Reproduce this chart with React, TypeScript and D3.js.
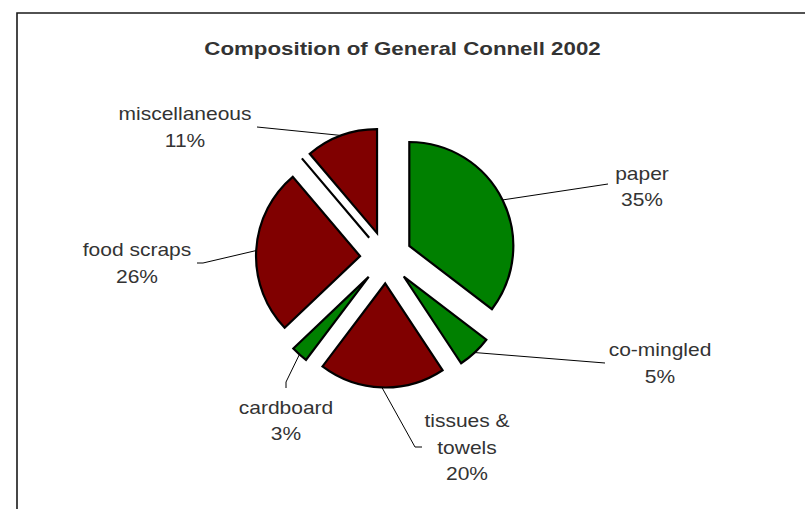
import React from "react";
import * as d3 from "d3";

// ---- data ----
const categories = ["paper", "co-mingled", "tissues & towels", "cardboard", "food scraps", "other", "miscellaneous"];
const values = [35.4, 5.3, 19.6, 2.6, 25.9, 0, 11.2];
const groups = ["green", "green", "red", "green", "red", "red", "red"];
const title = "Composition of General Connell 2002";

// ---- layout / style ----
const W = 805;
const H = 509;
const CX = 386;
const CY = 257.5;
const R = 104;
const EXPLODE = 26;
const colorMap: Record<string, string> = { green: "#008000", red: "#800000" };
const TEXT_COLOR = "#333333";
const FONT = "'Liberation Sans', Arial, Helvetica, sans-serif";
const SX = 1.2;
const LINE_H = 26.5;

const labelLines: Record<string, string[]> = {
  "tissues & towels": ["tissues &", "towels"],
};

// label anchors (text center x, first baseline y) and leader polyline points beyond slice edge
const labelLayout: Record<string, { x: number; y: number; lead: [number, number][] }> = {
  paper: { x: 642, y: 179.5, lead: [[608, 184]] },
  "co-mingled": { x: 660, y: 356, lead: [[605, 363]] },
  "tissues & towels": { x: 467, y: 427, lead: [[415, 447], [422, 447]] },
  cardboard: { x: 286, y: 413.5, lead: [[286, 382], [286, 388]] },
  "food scraps": { x: 137, y: 256, lead: [[203, 263], [197, 263]] },
  miscellaneous: { x: 185, y: 120, lead: [[257, 127]] },
};

export default function App() {
  const data = categories.map((c, i) => ({ name: c, value: values[i], group: groups[i] }));
  const pie = d3
    .pie<{ name: string; value: number; group: string }>()
    .sort(null)
    .value((d) => d.value)
    .startAngle(0)
    .endAngle(2 * Math.PI);
  const arcs = pie(data);
  const arc = d3.arc<d3.PieArcDatum<any>>().innerRadius(0).outerRadius(R);

  return (
    <svg
      width={W}
      height={H}
      style={{ position: "absolute", left: 0, top: 0, background: "#fff" }}
      fontFamily={FONT}
    >
      <rect x={0} y={0} width={W} height={H} fill="#fff" />
      <path d={`M17,${H + 5} V13 H${W + 5}`} fill="none" stroke="#1a1a1a" strokeWidth={1.6} />
      <text
        transform={`translate(402.5,55) scale(1.26,1)`}
        textAnchor="middle"
        fontSize={17.7}
        fontWeight="bold"
        fill={TEXT_COLOR}
      >
        {title}
      </text>
      <g>
        {arcs.map((a, i) => {
          const mid = (a.startAngle + a.endAngle) / 2;
          const ox = CX + EXPLODE * Math.sin(mid);
          const oy = CY - EXPLODE * Math.cos(mid);
          return (
            <path
              key={i}
              d={arc(a) || ""}
              transform={`translate(${ox},${oy})`}
              fill={colorMap[a.data.group]}
              stroke="#000"
              strokeWidth={2.2}
              strokeLinejoin="miter"
            />
          );
        })}
      </g>
      <g>
        {arcs.map((a, i) => {
          if (a.data.value <= 0) return null;
          const lay = labelLayout[a.data.name];
          if (!lay) return null;
          const mid = (a.startAngle + a.endAngle) / 2;
          const sx = CX + (EXPLODE + R) * Math.sin(mid);
          const sy = CY - (EXPLODE + R) * Math.cos(mid);
          const pts: [number, number][] = [[sx, sy], ...lay.lead];
          const lines = [...(labelLines[a.data.name] || [a.data.name]), `${Math.round(a.data.value)}%`];
          return (
            <g key={i}>
              <polyline
                points={pts.map((p) => p.join(",")).join(" ")}
                fill="none"
                stroke="#000"
                strokeWidth={1}
              />
              {lines.map((t, j) => (
                <text
                  key={j}
                  transform={`translate(${lay.x},${lay.y + j * LINE_H}) scale(${SX},1)`}
                  textAnchor="middle"
                  fontSize={17.5}
                  fill={TEXT_COLOR}
                >
                  {t}
                </text>
              ))}
            </g>
          );
        })}
      </g>
    </svg>
  );
}
